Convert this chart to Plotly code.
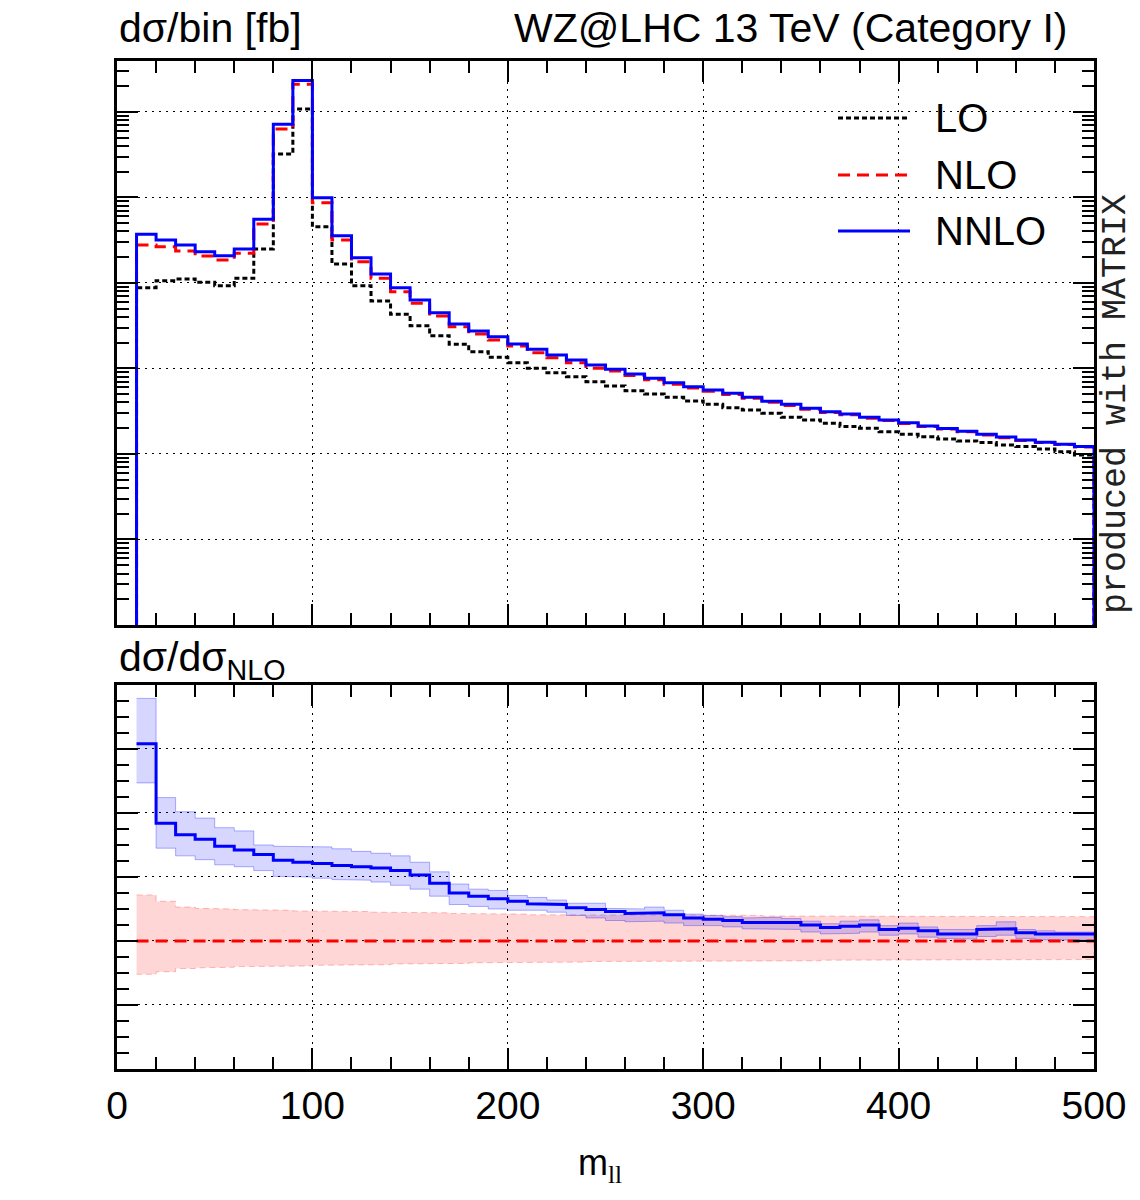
import plotly.graph_objects as go

# ---------------- data ----------------
bin_edges = list(range(10, 501, 10))  # m_ll bin edges (49 bins, 10..500)

xs_lo = [0.0881, 0.1064, 0.1113, 0.1019, 0.0929, 0.1135, 0.2498, 3.227, 10.84, 0.4555,
         0.1668, 0.0929, 0.0616, 0.0430, 0.03167, 0.02418, 0.01919, 0.01572, 0.01352, 0.01169,
         0.01005, 0.00893, 0.00802, 0.00701, 0.00624, 0.00550, 0.00503, 0.00460, 0.00417, 0.00381,
         0.00348, 0.00327, 0.00299, 0.00269, 0.00250, 0.00229, 0.00209, 0.00200, 0.00182, 0.00170,
         0.00159, 0.00150, 0.00142, 0.00136, 0.00127, 0.00122, 0.00114, 0.00106, 0.000973]

xs_nlo = [0.2783, 0.2658, 0.2366, 0.2069, 0.1858, 0.2226, 0.4899, 6.327, 21.09, 0.8695,
          0.3184, 0.1775, 0.1135, 0.0791, 0.0579, 0.0411, 0.0308, 0.02532, 0.02154, 0.01833,
          0.01530, 0.01337, 0.01169, 0.01005, 0.00936, 0.00826, 0.00736, 0.00655, 0.00591, 0.00542,
          0.00497, 0.00447, 0.00402, 0.00370, 0.00334, 0.00306, 0.00287, 0.00262, 0.00246, 0.00227,
          0.00210, 0.00196, 0.00182, 0.00167, 0.00155, 0.00144, 0.00136, 0.00129, 0.00121]

xs_nnlo = [0.3712, 0.3184, 0.2783, 0.2323, 0.2086, 0.2498, 0.5559, 7.179, 23.36, 0.9946,
           0.3574, 0.1976, 0.1274, 0.0881, 0.0633, 0.0449, 0.0332, 0.02746, 0.02354, 0.01934,
           0.01678, 0.01438, 0.01258, 0.01099, 0.00979, 0.00862, 0.00768, 0.00682, 0.00612, 0.00560,
           0.00513, 0.00460, 0.00413, 0.00381, 0.00342, 0.00312, 0.00294, 0.00269, 0.00250, 0.00232,
           0.00213, 0.00198, 0.00184, 0.00170, 0.00158, 0.00146, 0.00137, 0.00130, 0.00122]

# ratio panel (normalised to NLO)
ratio_nnlo = [1.308, 1.184, 1.166, 1.159, 1.148, 1.142, 1.135, 1.126, 1.123, 1.121,
              1.118, 1.116, 1.114, 1.110, 1.103, 1.090, 1.075, 1.070, 1.066, 1.062,
              1.058, 1.057, 1.052, 1.049, 1.046, 1.043, 1.044, 1.041, 1.036, 1.034,
              1.032, 1.029, 1.028, 1.029, 1.025, 1.021, 1.023, 1.025, 1.018, 1.020,
              1.016, 1.011, 1.011, 1.018, 1.019, 1.013, 1.011, 1.010, 1.011]
ratio_nnlo_up = [1.379, 1.224, 1.202, 1.192, 1.177, 1.172, 1.150, 1.148, 1.147, 1.147,
                 1.144, 1.140, 1.137, 1.133, 1.123, 1.108, 1.089, 1.081, 1.079, 1.071,
                 1.068, 1.064, 1.059, 1.059, 1.051, 1.050, 1.053, 1.048, 1.042, 1.040,
                 1.038, 1.036, 1.037, 1.035, 1.031, 1.027, 1.031, 1.033, 1.024, 1.028,
                 1.022, 1.018, 1.018, 1.024, 1.030, 1.018, 1.016, 1.014, 1.014]
ratio_nnlo_dn = [1.247, 1.145, 1.133, 1.127, 1.119, 1.116, 1.110, 1.101, 1.100, 1.098,
                 1.096, 1.095, 1.092, 1.087, 1.081, 1.070, 1.057, 1.054, 1.050, 1.048,
                 1.048, 1.045, 1.040, 1.036, 1.032, 1.030, 1.031, 1.028, 1.024, 1.024,
                 1.022, 1.019, 1.018, 1.018, 1.014, 1.011, 1.012, 1.014, 1.009, 1.011,
                 1.006, 1.004, 1.003, 1.007, 1.009, 1.004, 1.002, 1.001, 1.001]
ratio_nlo = [1.0] * 49
ratio_nlo_up = [1.072, 1.062, 1.053, 1.051, 1.050, 1.049, 1.048, 1.048, 1.047, 1.047,
                1.046, 1.046, 1.045, 1.045, 1.044, 1.044, 1.043, 1.043, 1.042, 1.042,
                1.041, 1.041, 1.041, 1.041, 1.040, 1.040, 1.040, 1.040, 1.040, 1.040,
                1.040, 1.040, 1.039, 1.039, 1.039, 1.039, 1.039, 1.039, 1.039, 1.039,
                1.039, 1.039, 1.038, 1.038, 1.038, 1.038, 1.038, 1.038, 1.038]
ratio_nlo_dn = [0.948, 0.952, 0.957, 0.958, 0.959, 0.960, 0.960, 0.961, 0.961, 0.962,
                0.962, 0.963, 0.963, 0.964, 0.964, 0.965, 0.965, 0.966, 0.966, 0.967,
                0.967, 0.967, 0.967, 0.968, 0.968, 0.968, 0.968, 0.968, 0.969, 0.969,
                0.969, 0.969, 0.969, 0.969, 0.969, 0.970, 0.970, 0.970, 0.970, 0.970,
                0.970, 0.970, 0.970, 0.971, 0.971, 0.971, 0.971, 0.971, 0.971]

x_tick_vals = [0, 100, 200, 300, 400, 500]
x_tick_text = ["0", "100", "200", "300", "400", "500"]

# ---------------- helpers ----------------
def step(vals, edges, close=None):
    xs, ys = [], []
    if close is not None:
        xs.append(edges[0]); ys.append(close)
    for i, v in enumerate(vals):
        xs += [edges[i], edges[i + 1]]
        ys += [v, v]
    if close is not None:
        xs.append(edges[-1]); ys.append(close)
    return xs, ys


def band(up, dn, edges):
    xu, yu = step(up, edges)
    xd, yd = step(dn, edges)
    return xu + xd[::-1], yu + yd[::-1]


FONT = "Liberation Sans, Arial, Helvetica, sans-serif"
fig = go.Figure()

# ---------------- top panel ----------------
FLOOR = 1e-9
for name, vals, color, dash in [("LO", xs_lo, "black", "5px,3px"),
                                ("NLO", xs_nlo, "red", "12px,7px"),
                                ("NNLO", xs_nnlo, "blue", "solid")]:
    x, y = step(vals, bin_edges, close=FLOOR)
    fig.add_trace(go.Scatter(x=x, y=y, mode="lines", name=name, showlegend=False,
                             line=dict(color=color, width=3, dash=dash),
                             xaxis="x", yaxis="y"))

# ---------------- ratio panel ----------------
bx, by = band(ratio_nlo_up, ratio_nlo_dn, bin_edges)
fig.add_trace(go.Scatter(x=bx, y=by, mode="lines", fill="toself",
                         fillcolor="rgba(255,0,0,0.16)",
                         line=dict(color="rgba(255,0,0,0.25)", width=1, dash="6px,4px"),
                         showlegend=False, xaxis="x2", yaxis="y2"))
bx, by = band(ratio_nnlo_up, ratio_nnlo_dn, bin_edges)
fig.add_trace(go.Scatter(x=bx, y=by, mode="lines", fill="toself",
                         fillcolor="rgba(0,0,255,0.16)",
                         line=dict(color="rgba(0,0,255,0.3)", width=1),
                         showlegend=False, xaxis="x2", yaxis="y2"))
x, y = step(ratio_nlo, bin_edges)
fig.add_trace(go.Scatter(x=x, y=y, mode="lines", showlegend=False,
                         line=dict(color="red", width=3, dash="12px,7px"),
                         xaxis="x2", yaxis="y2"))
x, y = step(ratio_nnlo, bin_edges)
fig.add_trace(go.Scatter(x=x, y=y, mode="lines", showlegend=False,
                         line=dict(color="blue", width=3),
                         xaxis="x2", yaxis="y2"))

# ---------------- axes ----------------
grid = dict(showgrid=True, gridcolor="black", gridwidth=1, griddash="2px,5px")
frame = dict(showline=True, linecolor="black", linewidth=2.5, mirror="allticks",
             ticks="inside", tickcolor="black", tickwidth=2, zeroline=False)

xcommon = dict(range=[0, 500], tickmode="array", tickvals=x_tick_vals, ticktext=x_tick_text,
               ticklen=21, minor=dict(dtick=20, tick0=0, ticks="inside", ticklen=12,
                                      tickwidth=2, tickcolor="black", showgrid=False),
               **grid, **frame)

fig.update_layout(
    width=1140, height=1200,
    margin=dict(l=117, r=46, t=61, b=131),
    paper_bgcolor="white", plot_bgcolor="white",
    font=dict(family=FONT, color="black", size=39),
    showlegend=False,
    xaxis=dict(domain=[0, 1], anchor="y", showticklabels=False, **xcommon),
    yaxis=dict(domain=[0.4405, 1], anchor="x", type="log", range=[-5, 1.596],
               tickmode="linear", tick0=0, dtick=1, showticklabels=False, ticklen=21,
               minor=dict(ticks="inside", ticklen=12, tickwidth=1.5, tickcolor="black",
                          showgrid=False),
               **grid, **frame),
    xaxis2=dict(domain=[0, 1], anchor="y2", matches="x", showticklabels=True,
                tickfont=dict(size=39, family=FONT), **xcommon),
    yaxis2=dict(domain=[0, 0.381], anchor="x2", range=[0.8, 1.4],
                tickmode="linear", tick0=0.8, dtick=0.1, showticklabels=False, ticklen=21,
                minor=dict(dtick=0.025, tick0=0.8, ticks="inside", ticklen=12,
                           tickwidth=2, tickcolor="black", showgrid=False),
                **grid, **frame),
)

# ---------------- legend (manual) ----------------
def px2paper(px, py):
    return (px - 117) / 977, (1069 - py) / 1008

legend_items = [("LO", "black", "5px,3px", 118),
                ("NLO", "red", "12px,7px", 175),
                ("NNLO", "blue", "solid", 231)]
for label, color, dash, py in legend_items:
    x0, y0 = px2paper(838, py)
    x1, _ = px2paper(910, py)
    fig.add_shape(type="line", xref="paper", yref="paper", x0=x0, x1=x1, y0=y0, y1=y0,
                  line=dict(color=color, width=3, dash=dash))
    tx, ty = px2paper(933, py)
    fig.add_annotation(text=label, xref="paper", yref="paper", x=tx, y=ty,
                       xanchor="left", yanchor="middle", showarrow=False,
                       font=dict(size=40, family=FONT, color="black"))

# ---------------- texts ----------------
ax, ay = px2paper(117, 28)
fig.add_annotation(text="dσ/bin [fb]", xref="paper", yref="paper", x=ax, y=ay,
                   xanchor="left", yanchor="middle", showarrow=False,
                   font=dict(size=41, family=FONT))
ax, ay = px2paper(1070, 28)
fig.add_annotation(text="WZ@LHC 13 TeV (Category I)", xref="paper", yref="paper", x=ax, y=ay,
                   xanchor="right", yanchor="middle", showarrow=False,
                   font=dict(size=41, family=FONT))
ax, ay = px2paper(117, 660)
fig.add_annotation(text="dσ/dσ<sub>NLO</sub>", xref="paper", yref="paper", x=ax, y=ay,
                   xanchor="left", yanchor="middle", showarrow=False,
                   font=dict(size=41, family=FONT))
ax, ay = px2paper(600, 1165)
fig.add_annotation(text="m<sub><span style='font-family:Liberation Serif'>ll</span></sub>",
                   xref="paper", yref="paper", x=ax, y=ay,
                   xanchor="center", yanchor="middle", showarrow=False,
                   font=dict(size=36, family=FONT))
ax, ay = px2paper(1116, 404)
fig.add_annotation(text="produced with MATRIX", xref="paper", yref="paper", x=ax, y=ay,
                   xanchor="center", yanchor="middle", showarrow=False, textangle=-90,
                   font=dict(size=35, family="Liberation Mono, Courier New, monospace",
                             color="#222"))

fig.write_html("out.html")
